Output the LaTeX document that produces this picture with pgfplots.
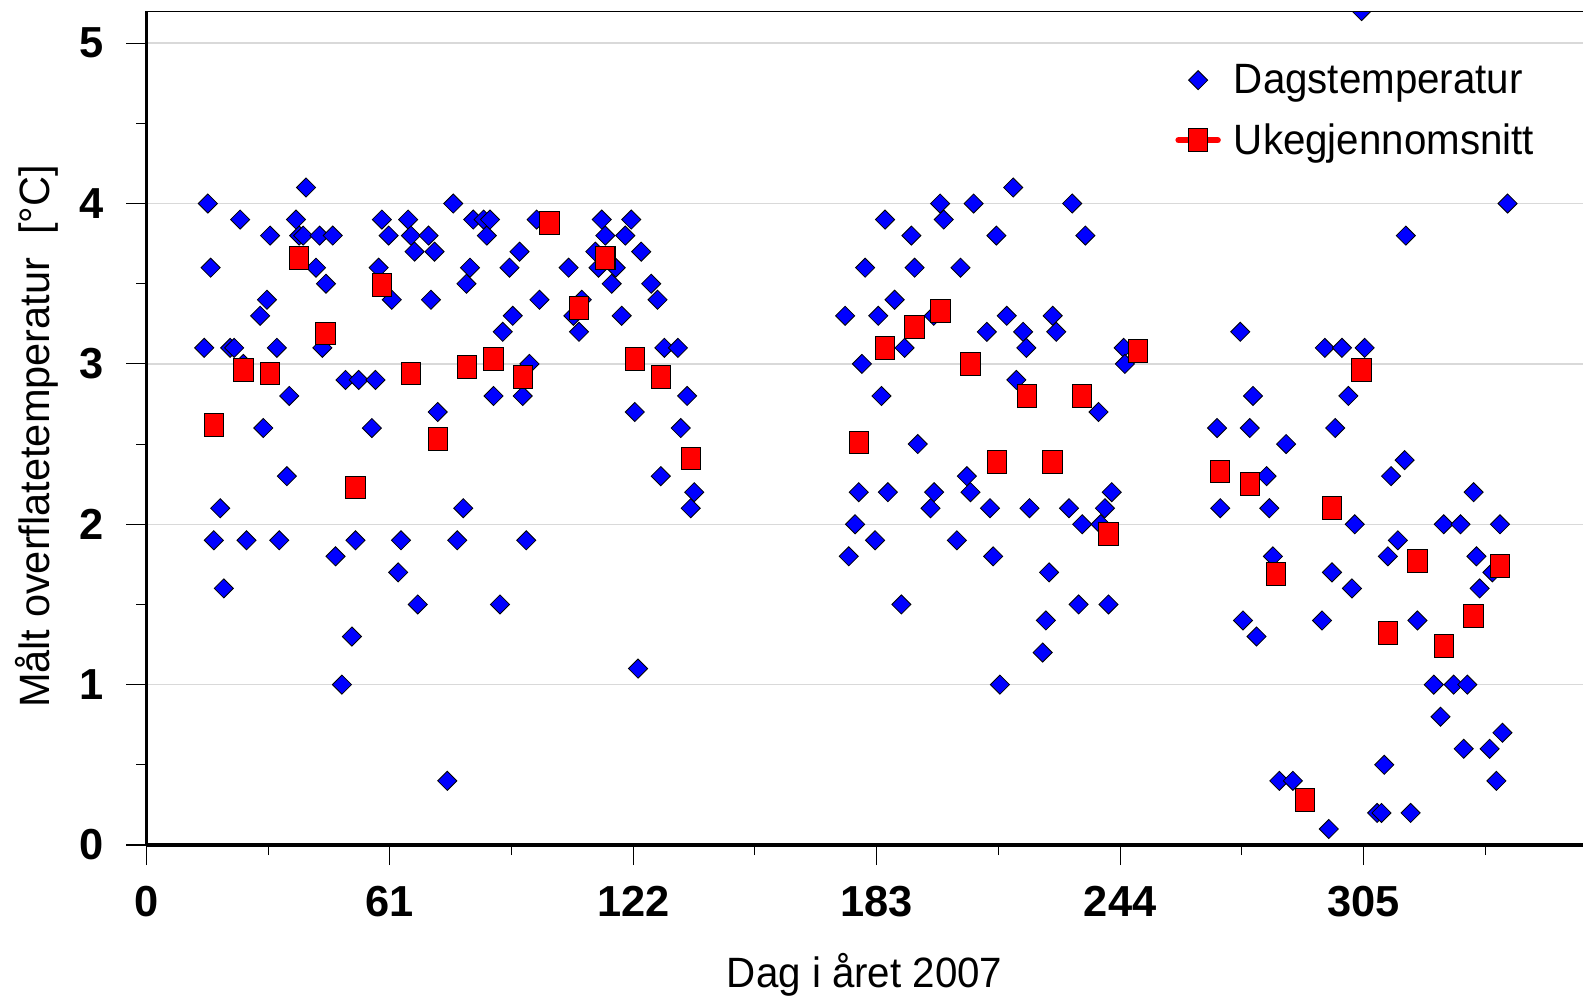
\documentclass[border=0pt]{standalone}
\usepackage{fontspec}
\setmainfont{Liberation Sans}
\newfontfamily\lblfont[FakeStretch=0.95]{Liberation Sans}
\newfontfamily\ylblfont[FakeStretch=0.98]{Liberation Sans}
\usepackage{pgfplots}
\pgfplotsset{compat=1.18}
\definecolor{dagblue}{RGB}{0,0,255}
\definecolor{ukered}{RGB}{255,0,0}
\begin{document}
\begin{tikzpicture}
\begin{axis}[
  name=ax,
  width=711.5pt, height=413pt, scale only axis,
  xmin=0, xmax=360, ymin=0, ymax=5.2,
  axis x line=bottom, axis y line=left,
  axis line style={-, line width=1.5pt, black},
  xtick={0,61,122,183,244,305},
  minor xtick={30.5,91.5,152.5,213.5,274.5,335.5},
  ytick={0,1,2,3,4,5},
  minor ytick={0.5,1.5,2.5,3.5,4.5},
  tick align=outside,
  major tick length=10pt, minor tick length=5pt,
  every tick/.style={black, line width=0.5pt},
  ymajorgrids, major grid style={draw=black!15, line width=0.75pt},
  /pgf/number format/assume math mode=true,
  tick label style={font=\fontsize{21.5}{25}\selectfont\bfseries},
  xticklabel style={inner sep=0pt, anchor=north, yshift=-10pt},
  yticklabel style={inner sep=0pt, anchor=east, xshift=-11pt},
  xlabel={Dag i året 2007},
  ylabel={Målt overflatetemperatur~ [°C]},
  every axis x label/.style={at={(rel axis cs:0.5,-0.1705)}, anchor=base, font=\lblfont\fontsize{21}{25}\selectfont},
  every axis y label/.style={at={(rel axis cs:-0.0765,0.49)}, rotate=90, anchor=center, font=\ylblfont\fontsize{21}{25}\selectfont},
  clip marker paths=true,
  legend image code/.code={\draw[mark repeat=2,mark phase=2,#1] plot coordinates {(0pt,0pt) (9.75pt,0pt) (19.5pt,0pt)};},
  legend style={draw=none, fill=none, inner sep=0pt, at={(rel axis cs:0.716,0.937)}, anchor=north west,
    font=\lblfont\fontsize{21}{25}\selectfont, row sep=13.4pt, column sep=6.5pt,
    nodes={inner sep=0pt}, cells={anchor=west}},
]
% daily values
\addplot[only marks, mark=square*, mark size=3.35pt,
  mark options={rotate=45, fill=dagblue, draw=black, line width=0.4pt}]
coordinates {
(14.5,3.1) (15.4,4.0) (16.1,3.6) (16.9,1.9) (18.5,2.1) (19.4,1.6)
(21.0,3.1) (22.0,3.1) (23.5,3.9) (24.3,3.0) (25.1,1.9) (28.5,3.3)
(29.3,2.6) (30.2,3.4) (31.0,3.8) (32.7,3.1) (33.3,1.9) (35.2,2.3)
(35.8,2.8) (37.5,3.9) (38.3,3.8) (39.3,3.8) (40.0,4.1) (42.5,3.6)
(43.4,3.8) (44.1,3.1) (45.0,3.5) (46.7,3.8) (47.4,1.8) (49.0,1.0)
(49.9,2.9) (51.5,1.3) (52.4,1.9) (53.2,2.9) (56.5,2.6) (57.4,2.9)
(58.2,3.6) (59.0,3.9) (60.7,3.8) (61.5,3.4) (63.1,1.7) (63.8,1.9)
(65.6,3.9) (66.3,3.8) (67.2,3.7) (68.0,1.5) (70.7,3.8) (71.3,3.4)
(72.2,3.7) (73.0,2.7) (75.4,0.4) (76.9,4.0) (77.9,1.9) (79.4,2.1)
(80.2,3.5) (81.1,3.6) (81.9,3.9) (84.5,3.9) (85.3,3.8) (86.1,3.9)
(87.0,2.8) (88.6,1.5) (89.3,3.2) (91.0,3.6) (91.8,3.3) (93.5,3.7)
(94.3,2.8) (95.2,1.9) (96.0,3.0) (97.8,3.9) (98.5,3.4) (105.8,3.6)
(107.0,3.3) (108.4,3.2) (109.1,3.4) (112.5,3.7) (113.3,3.6) (114.1,3.9)
(115.0,3.8) (116.6,3.5) (117.6,3.6) (119.1,3.3) (120.0,3.8) (121.5,3.9)
(122.4,2.7) (123.2,1.1) (124.0,3.7) (126.5,3.5) (128.1,3.4) (128.9,2.3)
(129.8,3.1) (133.2,3.1) (133.9,2.6) (135.5,2.8) (136.4,2.1) (137.3,2.2)
(175.1,3.3) (176.0,1.8) (177.6,2.0) (178.5,2.2) (179.3,3.0) (180.1,3.6)
(182.6,1.9) (183.4,3.3) (184.2,2.8) (185.1,3.9) (185.8,2.2) (187.5,3.4)
(189.2,1.5) (190.0,3.1) (191.7,3.8) (192.5,3.6) (193.3,2.5) (196.5,2.1)
(197.3,3.3) (197.4,2.2) (198.9,4.0) (199.8,3.9) (203.1,1.9) (204.0,3.6)
(205.6,2.3) (206.5,2.2) (207.3,4.0) (210.6,3.2) (211.4,2.1) (212.2,1.8)
(213.0,3.8) (213.9,1.0) (215.6,3.3) (217.2,4.1) (218.0,2.9) (219.7,3.2)
(220.5,3.1) (221.3,2.1) (224.6,1.2) (225.4,1.4) (226.2,1.7) (227.1,3.3)
(228.0,3.2) (231.2,2.1) (232.0,4.0) (233.6,1.5) (234.5,2.0) (235.3,3.8)
(238.6,2.7) (239.1,2.0) (240.2,2.1) (241.1,1.5) (241.9,2.2) (244.9,3.1)
(245.2,3.0)
(268.3,2.6) (269.1,2.1) (274.1,3.2) (274.8,1.4) (276.5,2.6) (277.3,2.8)
(278.2,1.3) (280.7,2.3) (281.4,2.1) (282.3,1.8) (283.9,0.4) (285.6,2.5)
(287.3,0.4) (294.6,1.4) (295.3,3.1) (296.3,0.1) (297.1,1.7) (297.9,2.6)
(299.6,3.1) (301.2,2.8) (302.1,1.6) (302.8,2.0) (304.5,5.2) (305.3,3.1)
(308.4,0.2) (309.5,0.2) (310.2,0.5) (311.1,1.8) (311.9,2.3) (313.6,1.9)
(315.3,2.4) (315.6,3.8) (316.8,0.2) (318.5,1.4) (322.6,1.0) (324.3,0.8)
(325.1,2.0) (327.6,1.0) (329.3,2.0) (330.1,0.6) (331.0,1.0) (332.6,2.2)
(333.3,1.8) (334.1,1.6) (336.6,0.6) (337.3,1.7) (338.3,0.4) (339.2,2.0)
(339.8,0.7) (341.1,4.0)
};
\addlegendentry{Dagstemperatur}
% weekly averages
\addplot[only marks, forget plot, mark=square*, mark size=4.8pt,
  mark options={yscale=1.17, fill=ukered, draw=black, line width=0.5pt}]
coordinates {
(16.9,2.62) (24.3,2.96) (31.0,2.94) (38.3,3.66) (44.9,3.19) (52.4,2.23)
(59.0,3.49) (66.3,2.94) (73.0,2.53) (80.4,2.98) (87.0,3.03) (94.4,2.92)
(101.0,3.88) (108.4,3.35) (115.0,3.66) (122.4,3.03) (129.0,2.92) (136.4,2.41)
(178.5,2.51) (185.1,3.10) (192.5,3.23) (199.0,3.33) (206.5,3.00) (213.1,2.39)
(220.6,2.80) (227.1,2.39) (234.5,2.80) (241.1,1.94) (248.5,3.08)
(269.1,2.33) (276.5,2.25) (283.1,1.69) (290.4,0.28) (297.1,2.10) (304.5,2.96)
(311.1,1.32) (318.5,1.77) (325.1,1.24) (332.6,1.43) (339.2,1.74)
};
\addlegendimage{ukered, line width=3pt, line cap=round, mark=square*, mark size=4.8pt,
  mark options={solid, yscale=1.17, fill=ukered, draw=black, line width=0.5pt}}
\addlegendentry{Ukegjennomsnitt}
\draw[black, line width=0.5pt] (rel axis cs:0,1) -- (rel axis cs:1,1);
\end{axis}
\pgfresetboundingbox
\path[use as bounding box] ([xshift=-72.5pt,yshift=-75pt]ax.south west) rectangle ([yshift=5.5pt]ax.north east);
\end{tikzpicture}
\end{document}
